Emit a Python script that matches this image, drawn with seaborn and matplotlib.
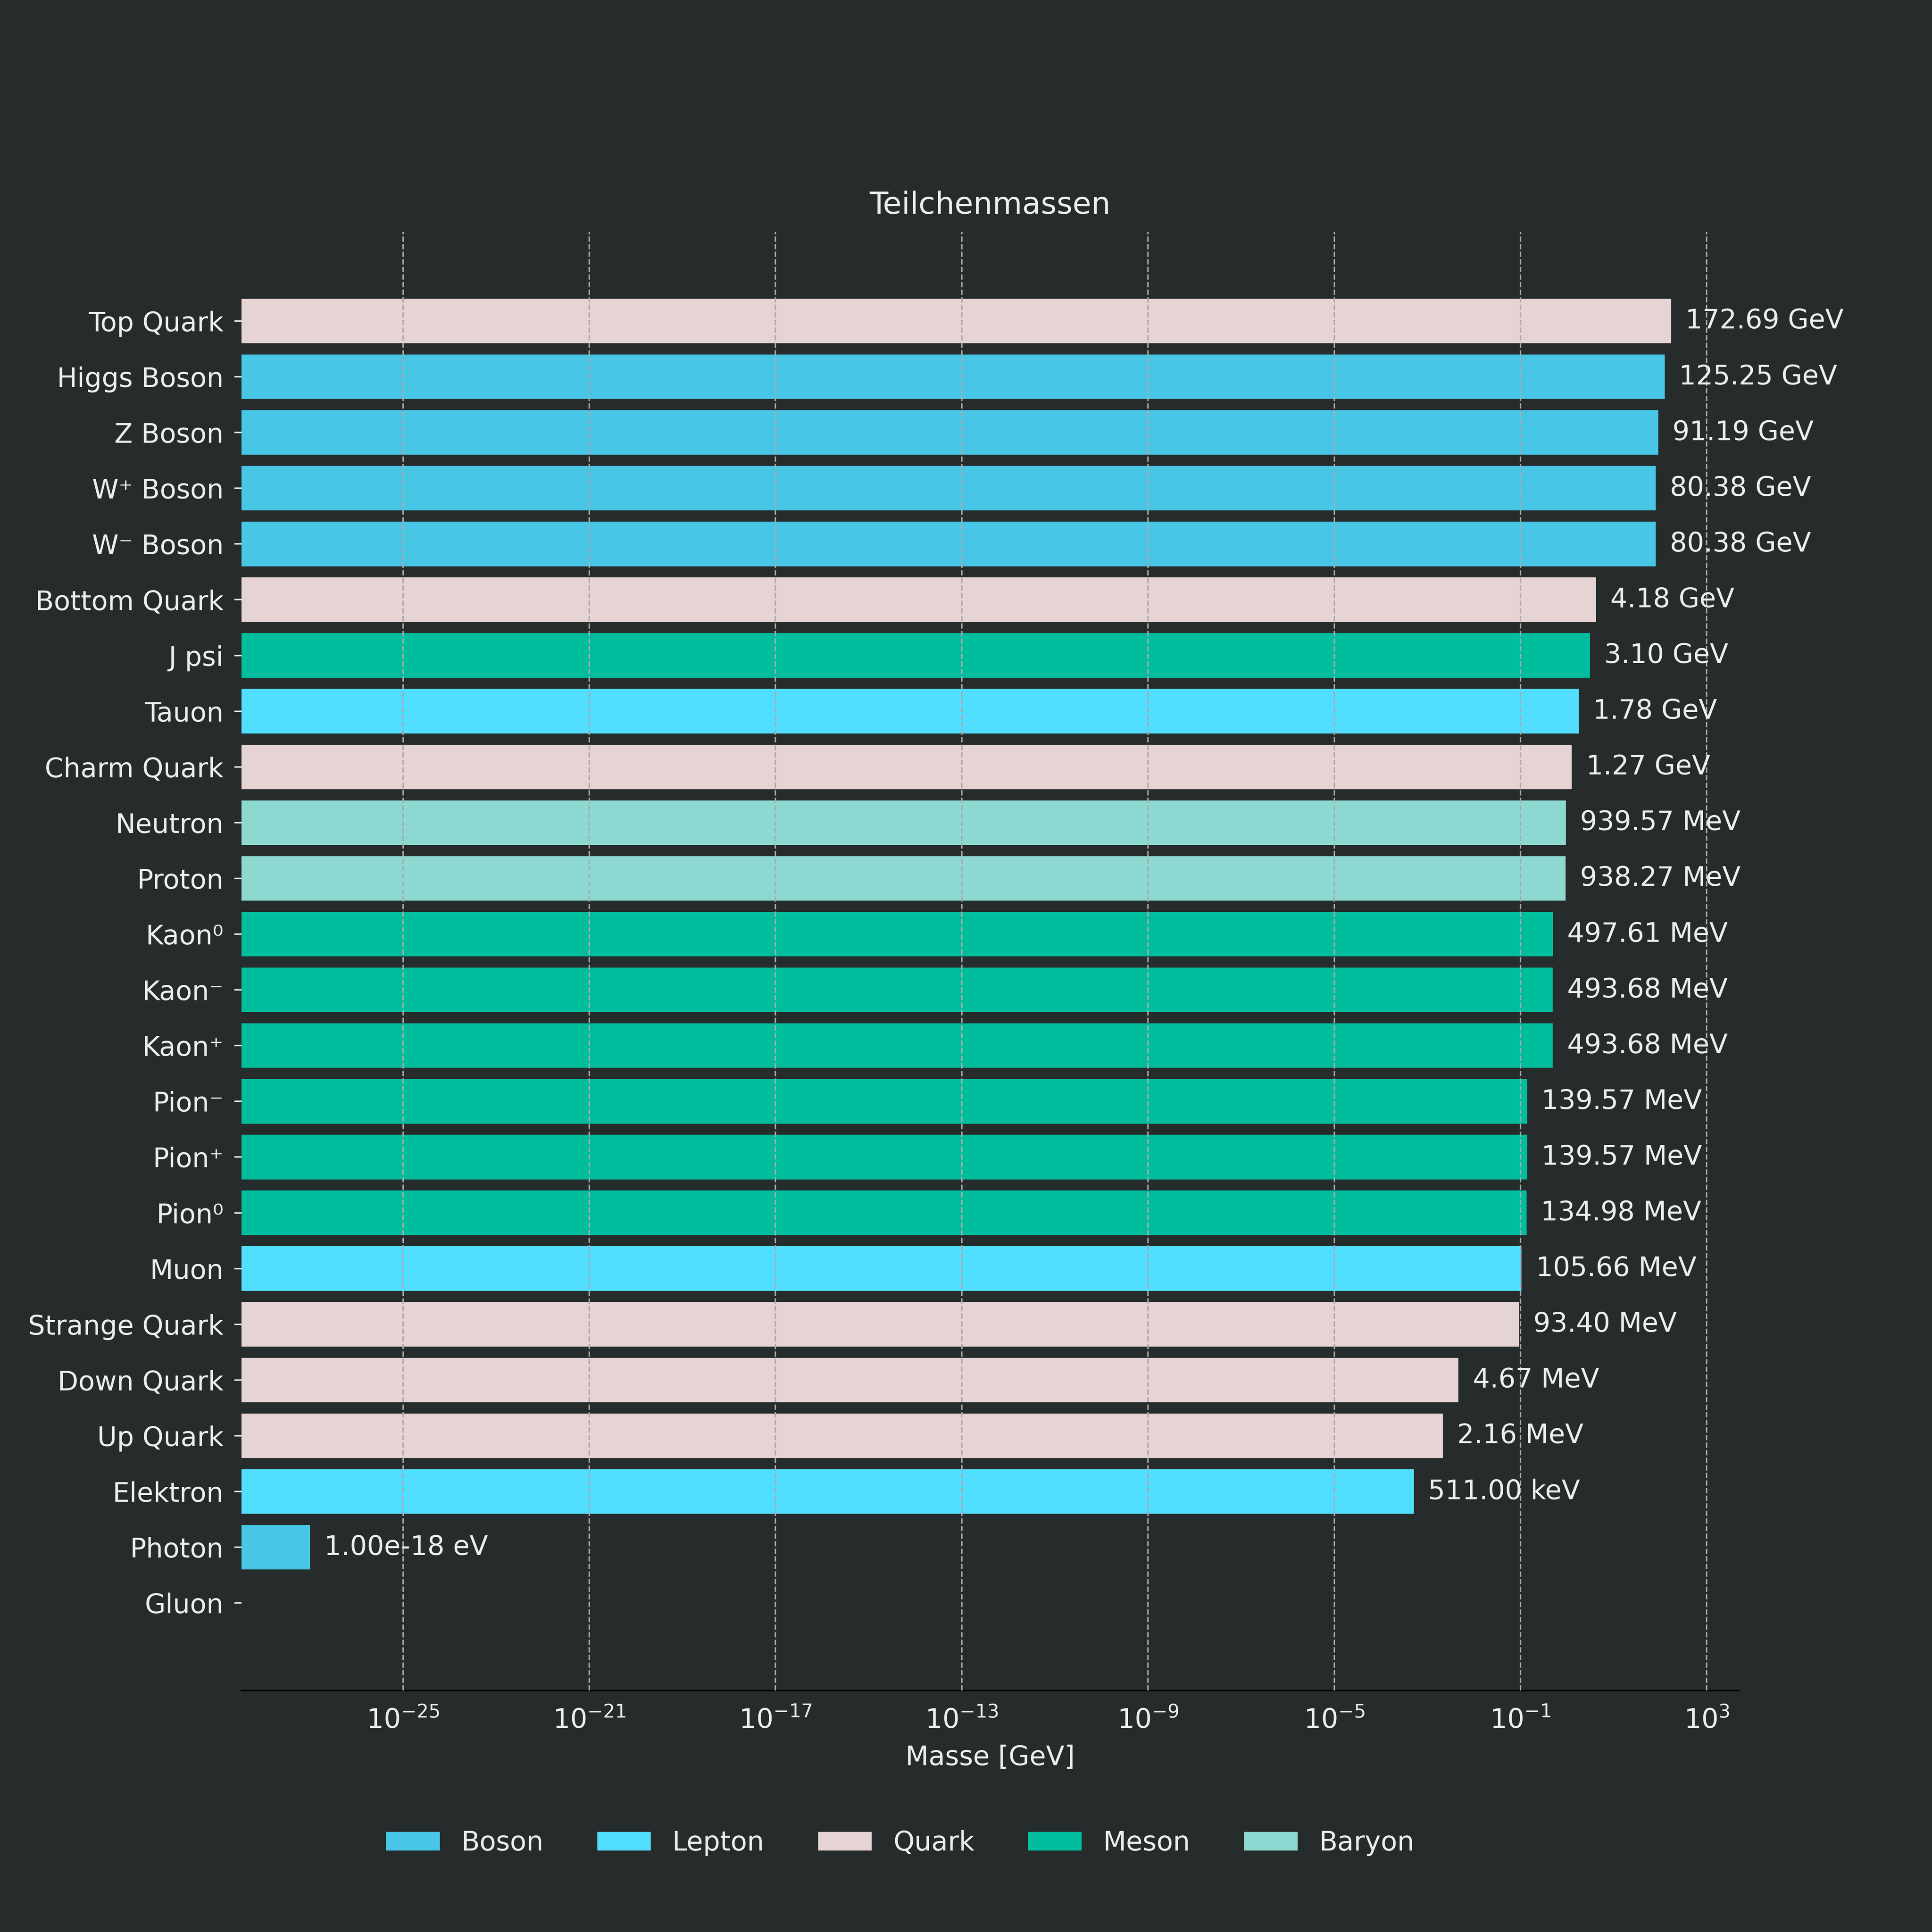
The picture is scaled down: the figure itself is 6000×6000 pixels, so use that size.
import matplotlib
matplotlib.use('Agg')
import matplotlib.pyplot as plt
import seaborn as sns
import pandas as pd

BG = '#262b2c'
FG = '#eeeeee'

particles = ['Top Quark', 'Higgs Boson', 'Z Boson', 'W⁺ Boson', 'W⁻ Boson', 'Bottom Quark',
             'J psi', 'Tauon', 'Charm Quark', 'Neutron', 'Proton', 'Kaon⁰', 'Kaon⁻', 'Kaon⁺',
             'Pion⁻', 'Pion⁺', 'Pion⁰', 'Muon', 'Strange Quark', 'Down Quark', 'Up Quark',
             'Elektron', 'Photon', 'Gluon']
masses_gev = [172.69, 125.25, 91.19, 80.38, 80.38, 4.18, 3.10, 1.78, 1.27, 0.93957, 0.93827,
              0.49761, 0.49368, 0.49368, 0.13957, 0.13957, 0.13498, 0.10566, 0.0934, 0.00467,
              0.00216, 0.000511, 1e-27, 0.0]
categories = ['Quark', 'Boson', 'Boson', 'Boson', 'Boson', 'Quark', 'Meson', 'Lepton', 'Quark',
              'Baryon', 'Baryon', 'Meson', 'Meson', 'Meson', 'Meson', 'Meson', 'Meson', 'Lepton',
              'Quark', 'Quark', 'Quark', 'Lepton', 'Boson', 'Boson']
palette = {'Boson': '#48c6e6', 'Lepton': '#52dfff', 'Quark': '#e6d3d3',
           'Meson': '#00bd9d', 'Baryon': '#8dd9d2'}

df = pd.DataFrame({'Teilchen': particles, 'Masse': masses_gev, 'Typ': categories})


def fmt_mass(m):
    if m == 0:
        return ''
    if m >= 1:
        return f'{m:.2f} GeV'
    if m >= 1e-3:
        return f'{m * 1e3:.2f} MeV'
    if m >= 1e-6:
        return f'{m * 1e6:.2f} keV'
    return f'{m * 1e9:.2e} eV'


sns.set_style('dark')
plt.rcParams.update({
    'figure.facecolor': BG, 'axes.facecolor': BG, 'savefig.facecolor': BG,
    'text.color': FG, 'axes.labelcolor': FG, 'xtick.color': FG, 'ytick.color': FG,
    'font.size': 15,
})
plt.rcParams['font.family'] = ['DejaVu Sans']

fig, ax = plt.subplots(figsize=(15, 15))
fig.subplots_adjust(left=0.125, right=0.9, top=0.88, bottom=0.125)

sns.barplot(data=df, y='Teilchen', x='Masse', hue='Typ', palette=palette,
            hue_order=['Boson', 'Lepton', 'Quark', 'Meson', 'Baryon'],
            dodge=False, orient='h', width=0.8, saturation=1, linewidth=0, ax=ax)
ax.set_xscale('log')
ax.set_xlim(10 ** -28.47, 10 ** 3.69)
ax.set_ylim(len(particles) - 1 + 1.57, -1.6)

for i, m in enumerate(masses_gev):
    if m > 0:
        ax.annotate(fmt_mass(m), (m, i), xytext=(8, 0), textcoords='offset points',
                    va='center', ha='left', color=FG, fontsize=15)

ticks = [10.0 ** e for e in range(-25, 4, 4)]
ax.set_xticks(ticks)
ax.xaxis.set_minor_locator(matplotlib.ticker.NullLocator())
ax.grid(True, axis='x', linestyle='--', color='#aaaaaa', linewidth=0.8)
ax.grid(False, axis='y')
ax.set_axisbelow(False)
for s in ['top', 'right', 'left']:
    ax.spines[s].set_visible(False)
ax.spines['bottom'].set_color('black')
ax.tick_params(axis='y', left=True, length=4, pad=6, color=FG, labelsize=15)
ax.tick_params(axis='x', bottom=False, pad=6, labelsize=15)

ax.set_title('Teilchenmassen', color=FG, fontsize=17, pad=10)
ax.set_xlabel('Masse [GeV]', fontsize=15, labelpad=6)
ax.set_ylabel('')
ax.legend(loc='upper center', bbox_to_anchor=(0.44, -0.079), ncol=5, frameon=False,
          handlelength=2.0, columnspacing=2.0, fontsize=15)

plt.savefig('out.png', dpi=400, facecolor=BG)
plt.close()
